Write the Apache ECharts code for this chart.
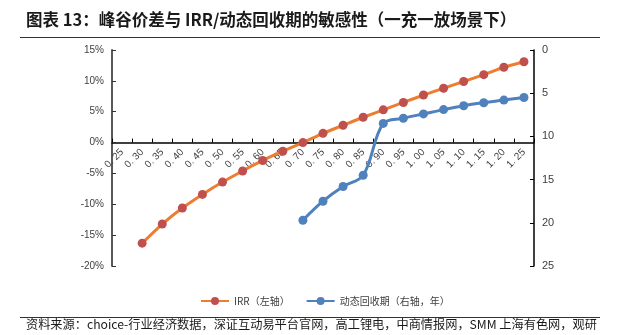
<!DOCTYPE html>
<html>
<head>
<meta charset="utf-8">
<script src="https://cdn.jsdelivr.net/npm/echarts@6/dist/echarts.min.js"></script>
<style>
  html, body { margin: 0; padding: 0; background: #fff; }
  #chart { width: 621px; height: 335px; }
</style>
</head>
<body>
<div id="chart"></div>
<script>
// Peak-valley price spread (元/kWh)
const spreads = ['0. 25', '0. 30', '0. 35', '0. 40', '0. 45', '0. 50', '0. 55', '0. 60', '0. 65', '0. 70',
  '0. 75', '0. 80', '0. 85', '0. 90', '0. 95', '1. 00', '1. 05', '1. 10', '1. 15', '1. 20', '1. 25'];
// IRR, %
const irr = [null, -16.3, -13.2, -10.6, -8.4, -6.4, -4.6, -2.9, -1.4, 0.0,
  1.5, 2.8, 4.1, 5.3, 6.5, 7.7, 8.8, 9.9, 11.0, 12.2, 13.1];
// Dynamic payback period, years
const payback = [null, null, null, null, null, null, null, null, null, 19.7,
  17.5, 15.8, 14.5, 8.5, 7.9, 7.4, 6.9, 6.45, 6.1, 5.8, 5.5];

const irrMin = -20, irrMax = 15;

const chart = echarts.init(document.getElementById('chart'));
const textColor = '#404040';
const cjk = '"Noto Sans CJK SC", "Liberation Sans", sans-serif';
const latin = '"Liberation Sans", Arial, sans-serif';

const gridTop = 50, gridBottom = 69, chartH = 335;
const plotH = chartH - gridTop - gridBottom;
// lift the category axis (line, ticks and labels) up to the 0% level of the left axis
const zeroLift = plotH * (0 - irrMin) / (irrMax - irrMin);

chart.setOption({
  animation: false,
  backgroundColor: '#fff',
  title: {
    text: '图表 13：峰谷价差与 IRR/动态回收期的敏感性（一充一放场景下）',
    left: 21, top: 6,
    textStyle: { fontFamily: cjk, fontSize: 16.5, fontWeight: 'bold', color: '#1a1a1a' }
  },
  graphic: [
    { type: 'line', shape: { x1: 20, y1: 37.5, x2: 600, y2: 37.5 }, style: { stroke: '#333', lineWidth: 1 } },
    { type: 'line', shape: { x1: 20, y1: 317.5, x2: 600, y2: 317.5 }, style: { stroke: '#333', lineWidth: 1 } },
    {
      type: 'text', left: 26, top: 318,
      style: {
        text: '资料来源：choice-行业经济数据，深证互动易平台官网，高工锂电，中商情报网，SMM 上海有色网，观研',
        font: '12.2px ' + cjk, fill: '#1a1a1a'
      }
    }
  ],
  legend: {
    left: 195, top: 291,
    itemWidth: 28, itemHeight: 10, itemGap: 16,
    textStyle: { fontFamily: cjk, fontSize: 10, color: textColor },
    data: ['IRR（左轴）', '动态回收期（右轴，年）']
  },
  grid: { left: 112, right: 87, top: gridTop, bottom: gridBottom },
  xAxis: {
    type: 'category',
    data: spreads,
    boundaryGap: true,
    position: 'bottom',
    offset: -zeroLift,
    axisLine: { onZero: false, lineStyle: { color: '#000', width: 1.5 } },
    axisTick: { show: true, inside: true, length: 4, alignWithLabel: false, lineStyle: { color: '#000' } },
    axisLabel: {
      rotate: 45, margin: 8, interval: 0,
      fontFamily: latin, fontSize: 10, color: textColor
    }
  },
  yAxis: [
    {
      type: 'value', min: irrMin, max: irrMax, interval: 5, position: 'left',
      axisLine: { show: true, onZero: false, lineStyle: { color: '#595959', width: 2 } },
      axisTick: { show: true, inside: true, length: 4, lineStyle: { color: '#333' } },
      splitLine: { show: false },
      axisLabel: {
        formatter: '{value}%', margin: 8,
        fontFamily: latin, fontSize: 10, color: textColor
      }
    },
    {
      type: 'value', min: 0, max: 25, interval: 5, inverse: true, position: 'right',
      axisLine: { show: true, onZero: false, lineStyle: { color: '#000', width: 1.5 } },
      axisTick: { show: true, inside: true, length: 4, lineStyle: { color: '#000' } },
      splitLine: { show: false },
      axisLabel: {
        margin: 8,
        fontFamily: latin, fontSize: 11, color: textColor
      }
    }
  ],
  series: [
    {
      name: 'IRR（左轴）', type: 'line', yAxisIndex: 0, data: irr,
      smooth: 0.2, symbol: 'circle', symbolSize: 9,
      lineStyle: { color: '#ED7D31', width: 3 },
      itemStyle: { color: '#C0504D' },
      color: '#ED7D31'
    },
    {
      name: '动态回收期（右轴，年）', type: 'line', yAxisIndex: 1, data: payback,
      smooth: 0.35, symbol: 'circle', symbolSize: 9,
      lineStyle: { color: '#4F81BD', width: 3 },
      itemStyle: { color: '#4F81BD' },
      color: '#4F81BD'
    }
  ]
});
</script>
</body>
</html>
